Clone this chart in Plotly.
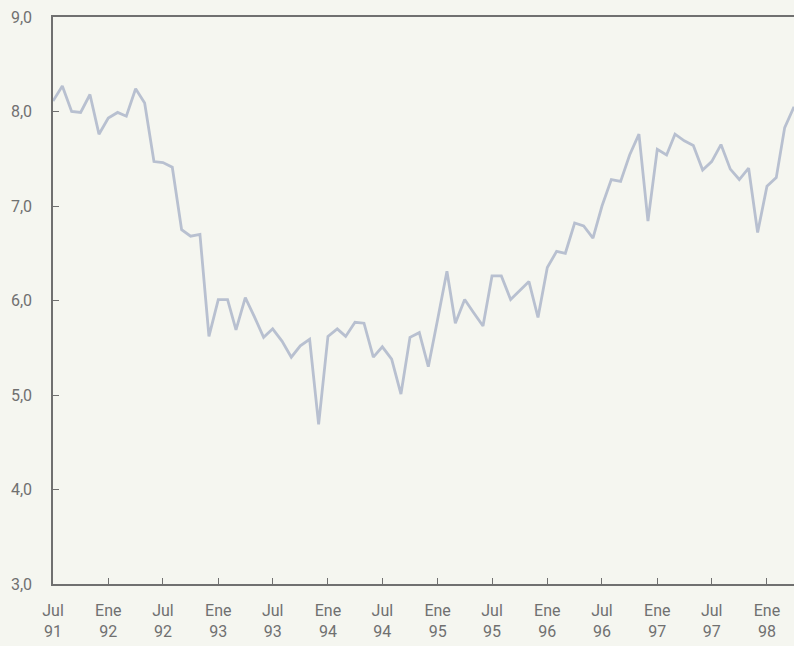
import pandas as pd
import plotly.graph_objects as go

# Monthly values, Jul 1991 .. Apr 1998
values = [
    8.11, 8.27, 8.00, 7.99, 8.18, 7.76,   # Jul-Dic 91
    7.93, 7.99, 7.95, 8.24, 8.09, 7.47,   # Ene-Jun 92
    7.46, 7.41, 6.75, 6.68, 6.70, 5.62,   # Jul-Dic 92
    6.01, 6.01, 5.69, 6.03, 5.83, 5.61,   # Ene-Jun 93
    5.70, 5.57, 5.40, 5.52, 5.59, 4.69,   # Jul-Dic 93
    5.62, 5.70, 5.62, 5.77, 5.76, 5.40,   # Ene-Jun 94
    5.51, 5.38, 5.01, 5.61, 5.66, 5.30,   # Jul-Dic 94
    5.80, 6.31, 5.76, 6.01, 5.87, 5.73,   # Ene-Jun 95
    6.26, 6.26, 6.01, 6.10, 6.20, 5.82,   # Jul-Dic 95
    6.35, 6.52, 6.50, 6.82, 6.79, 6.66,   # Ene-Jun 96
    7.00, 7.28, 7.26, 7.54, 7.76, 6.84,   # Jul-Dic 96
    7.60, 7.54, 7.76, 7.69, 7.64, 7.38,   # Ene-Jun 97
    7.47, 7.65, 7.39, 7.28, 7.40, 6.72,   # Jul-Dic 97
    7.21, 7.30, 7.83, 8.05,               # Ene-Abr 98
]
months = pd.date_range("1991-07-01", periods=len(values), freq="MS")

tick_dates = ["1991-07-01", "1992-01-01", "1992-07-01", "1993-01-01", "1993-07-01",
              "1994-01-01", "1994-07-01", "1995-01-01", "1995-07-01", "1996-01-01",
              "1996-07-01", "1997-01-01", "1997-07-01", "1998-01-01"]
tick_labels = ["Jul<br>91", "Ene<br>92", "Jul<br>92", "Ene<br>93", "Jul<br>93",
               "Ene<br>94", "Jul<br>94", "Ene<br>95", "Jul<br>95", "Ene<br>96",
               "Jul<br>96", "Ene<br>97", "Jul<br>97", "Ene<br>98"]
y_ticks = [3, 4, 5, 6, 7, 8, 9]
y_labels = ["3,0", "4,0", "5,0", "6,0", "7,0", "8,0", "9,0"]

FONT = "Roboto, Liberation Sans Narrow, sans-serif"
BG = "#f5f6f0"
AXIS = "#707070"

fig = go.Figure()
fig.add_trace(go.Scatter(
    x=months, y=values, mode="lines",
    line=dict(color="#b8c0d0", width=2.8),
    hoverinfo="skip", showlegend=False,
))

fig.update_layout(
    width=794, height=646,
    margin=dict(l=53, r=0, t=17, b=62),
    paper_bgcolor=BG, plot_bgcolor=BG,
    font=dict(family=FONT, size=16, color="#707070"),
    showlegend=False,
)
fig.update_xaxes(
    range=[months[0], months[-1]],
    tickvals=tick_dates, ticktext=tick_labels,
    showgrid=False, zeroline=False,
    showline=True, linecolor=AXIS, linewidth=1.5, mirror=True,
    ticks="inside", ticklen=6, tickcolor=AXIS, tickwidth=1,
    ticklabelstandoff=11,
)
fig.update_yaxes(
    range=[3, 9],
    tickvals=y_ticks, ticktext=y_labels,
    showgrid=False, zeroline=False,
    showline=True, linecolor=AXIS, linewidth=1.5,
    ticks="inside", ticklen=6, tickcolor=AXIS, tickwidth=1,
    ticklabelstandoff=16,
)

fig.write_html(
    "out.html",
    config={"displayModeBar": False},
    post_script="document.body.style.margin='0';document.body.style.background='%s';" % BG,
)
